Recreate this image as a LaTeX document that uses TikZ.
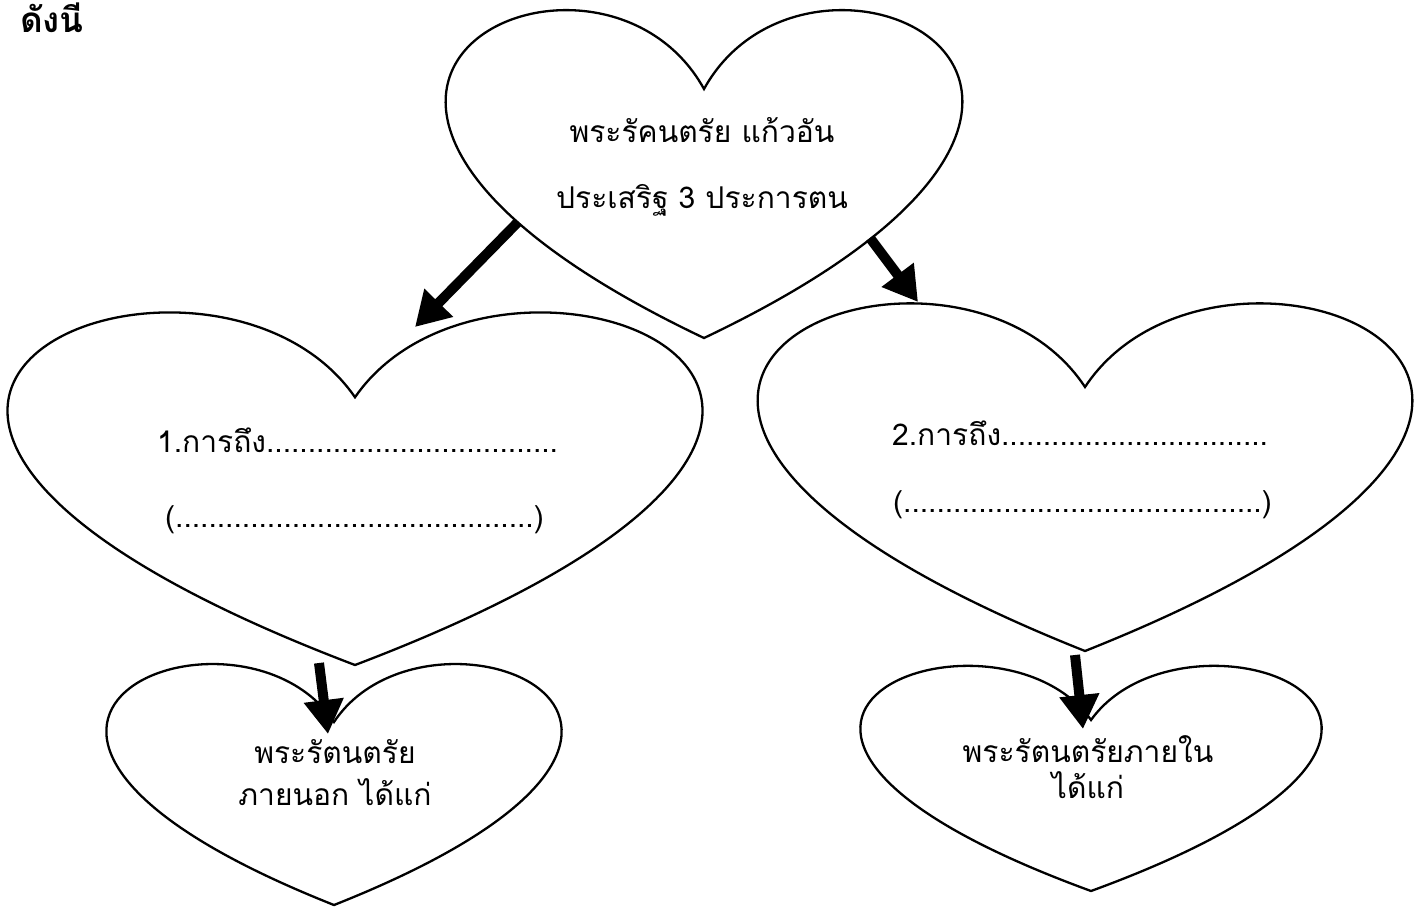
\documentclass[tikz,border=0pt]{standalone}
\usepackage{fontspec}
\setmainfont[Script=Thai]{Loma}
\usetikzlibrary{arrows.meta}
\tikzset{
  heartline/.style={draw=black, line width=2.3pt, line join=miter},
  bigarrow/.style={draw=black, line width=10pt, -{Triangle[length=34pt,width=38pt]}},
  lbl/.style={anchor=base, inner sep=0pt, font=\fontsize{30}{36}\selectfont},
}
\newcommand\drawheart[5]{% name, hc, t, w, h
  \draw[heartline] ({#2},{#3+#5/4}) .. controls ({#2+0.2083333*#4},{#3-#5/3}) and ({#2+1.0208333*#4},{#3+#5/4}) .. ({#2},{#3+#5})
     .. controls ({#2-1.0208333*#4},{#3+#5/4}) and ({#2-0.2083333*#4},{#3-#5/3}) .. ({#2},{#3+#5/4}) -- cycle;
  \coordinate (#1-notch) at ({#2},{#3+#5/4});
  \coordinate (#1-tip) at ({#2},{#3+#5});
}
\begin{document}
\begin{tikzpicture}[x=1pt,y=-1pt]
\useasboundingbox (0,0) rectangle (1420,907);
\fill[white] (0,0) rectangle (1420,907);
% hearts
\drawheart{top}{704}{6}{513}{332}
\drawheart{ml}{355}{308}{690}{357}
\drawheart{mr}{1085}{299}{650}{352}
\drawheart{bl}{334}{661}{452}{244}
\drawheart{br}{1091}{663}{458}{228}
% arrow end points
\coordinate (a1s) at (518,222);
\coordinate (a1e) at (415,327);
\coordinate (a2s) at (870,238);
\coordinate (a2e) at (918,302);
\coordinate (a3s) at (319,663);
\coordinate (a3e) at (328,734);
\coordinate (a4s) at (1075,655);
\coordinate (a4e) at (1083,729);
\draw[bigarrow] (a1s) -- (a1e);
\draw[bigarrow] (a2s) -- (a2e);
\draw[bigarrow] (a3s) -- (a3e);
\draw[bigarrow] (a4s) -- (a4e);
% texts
\node[lbl, anchor=base west, font=\bfseries\fontsize{35}{40}\selectfont] (title) at (20,33) {ดังนี};
\node[lbl] (t1) at (702,142) {พระรัคนตรัย แก้วอัน};
\node[lbl] (t2) at (702,208) {ประเสริฐ 3 ประการตน};
\node[lbl, anchor=base west] (l1) at (157,452) {1.การถึง...................................};
\node[lbl, anchor=base west] (l2) at (165,527) {(...........................................)};
\node[lbl, anchor=base west] (r1) at (892,445) {2.การถึง................................};
\node[lbl, anchor=base west] (r2) at (893,512) {(...........................................)};
\node[lbl] (b1) at (335,763) {พระรัตนตรัย};
\node[lbl] (b2) at (335,805) {ภายนอก ได้แก่};
\node[lbl] (c1) at (1088,762) {พระรัตนตรัยภายใน};
\node[lbl] (c2) at (1088,798) {ได้แก่};
\end{tikzpicture}
\end{document}
